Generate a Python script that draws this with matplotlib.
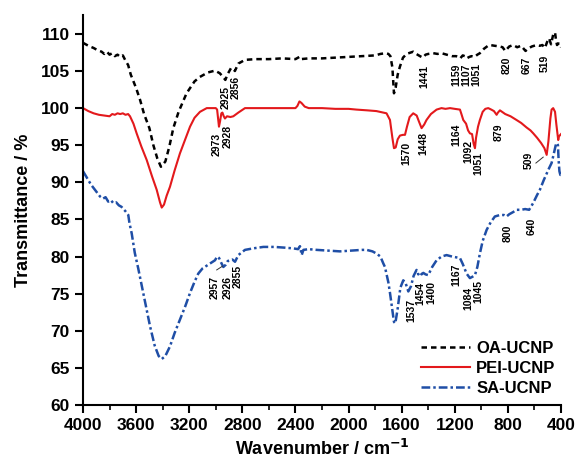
import matplotlib
matplotlib.use("Agg")
import matplotlib.pyplot as plt
from matplotlib.ticker import MultipleLocator

plt.rcParams['font.family'] = ['Liberation Sans', 'DejaVu Sans']
plt.rcParams['font.weight'] = 'bold'

# FTIR spectra (wavenumber in cm-1, transmittance in %)
oa_wn = [4000, 3960, 3920, 3890, 3860, 3840, 3820, 3800, 3780, 3760,
         3740, 3720, 3700, 3680, 3660, 3640, 3600, 3570, 3540, 3500,
         3470, 3440, 3413, 3380, 3350, 3320, 3280, 3220, 3160, 3120,
         3060, 3006, 2970, 2945, 2928, 2910, 2885, 2870, 2856, 2830,
         2780, 2700, 2600, 2500, 2400, 2370, 2360, 2300, 2200, 2100,
         2000, 1900, 1800, 1760, 1720, 1700, 1685, 1670, 1658, 1645,
         1630, 1613, 1590, 1563, 1530, 1513, 1490, 1462, 1441, 1420,
         1400, 1362, 1330, 1300, 1261, 1220, 1190, 1176, 1159, 1140,
         1125, 1111, 1090, 1074, 1051, 1030, 1011, 980, 950, 935,
         900, 860, 840, 820, 810, 790, 760, 730, 700, 686,
         667, 650, 620, 584, 560, 540, 521, 505, 490, 475,
         459, 445, 438, 430, 420, 408, 400]
oa_t = [108.8, 108.4, 108.1, 107.8, 107.6, 107.3, 107.6, 107.2, 107.4, 107.0,
        107.2, 106.9, 107.1, 106.4, 105.8, 104.5, 102.7, 101.1, 99.2, 97.3,
        95.0, 93.2, 92.1, 92.8, 94.8, 97.3, 99.5, 102.0, 103.6, 104.2,
        104.8, 105.05, 104.7, 104.2, 103.8, 104.6, 105.4, 105.3, 105.0, 106.0,
        106.5, 106.6, 106.6, 106.7, 106.6, 106.9, 106.6, 106.7, 106.7, 106.8,
        106.9, 107.0, 107.1, 107.3, 107.4, 107.3, 107.0, 105.5, 102.0, 102.8,
        104.5, 105.6, 106.8, 107.3, 107.5, 107.6, 107.3, 107.0, 106.8, 107.2,
        107.3, 107.4, 107.3, 107.4, 107.2, 107.0, 107.0, 106.9, 106.7, 107.1,
        107.0, 106.7, 106.9, 107.0, 106.9, 107.2, 107.4, 108.0, 108.4, 108.5,
        108.4, 108.3, 108.2, 107.7, 107.9, 108.3, 108.5, 108.2, 108.4, 108.1,
        107.7, 108.0, 108.3, 108.5, 108.4, 108.5, 108.1, 108.9, 109.4, 108.6,
        109.9, 110.2, 109.2, 108.5, 108.7, 108.7, 108.2]

pei_wn = [4000, 3960, 3920, 3880, 3840, 3800, 3780, 3760, 3740, 3720,
          3700, 3680, 3660, 3646, 3620, 3596, 3560, 3520, 3480, 3445,
          3420, 3407, 3390, 3370, 3345, 3310, 3270, 3230, 3194, 3160,
          3119, 3068, 3000, 2990, 2982, 2976, 2968, 2958, 2950, 2940,
          2931, 2915, 2890, 2868, 2830, 2780, 2600, 2400, 2385, 2370,
          2355, 2330, 2300, 2200, 2100, 2000, 1940, 1860, 1790, 1714,
          1688, 1670, 1658, 1645, 1630, 1613, 1590, 1575, 1560, 1540,
          1513, 1487, 1470, 1450, 1430, 1413, 1380, 1337, 1300, 1270,
          1236, 1200, 1161, 1150, 1136, 1115, 1100, 1086, 1070, 1058,
          1048, 1040, 1025, 1011, 990, 970, 948, 925, 905, 885,
          875, 860, 820, 780, 735, 700, 660, 630, 609, 580,
          550, 525, 508, 495, 480, 471, 459, 445, 435, 421,
          415, 400]
pei_t = [100.0, 99.6, 99.3, 99.1, 99.0, 98.9, 99.2, 99.1, 99.3, 99.2,
         99.3, 99.1, 99.2, 98.9, 97.9, 96.6, 94.8, 93.0, 90.8, 89.0,
         87.3, 86.6, 87.0, 88.2, 89.4, 91.6, 93.9, 95.8, 97.5, 98.7,
         99.5, 100.0, 100.0, 99.8, 98.5, 97.5, 98.2, 99.3, 99.4, 98.9,
         98.6, 98.9, 98.8, 98.9, 99.4, 100.0, 100.0, 100.0, 100.3, 100.9,
         100.7, 100.2, 100.0, 100.0, 99.9, 99.9, 99.8, 99.7, 99.6, 99.3,
         98.4, 96.0, 94.6, 94.7, 95.8, 96.3, 96.4, 96.4, 97.5, 98.8,
         99.3, 99.0, 98.2, 97.3, 97.8, 98.4, 99.2, 99.8, 100.0, 99.9,
         100.0, 99.9, 99.8, 99.2, 98.4, 97.9, 97.0, 96.6, 96.5, 95.2,
         94.6, 96.0, 97.5, 98.4, 99.5, 99.9, 100.0, 99.8, 99.6, 99.1,
         99.4, 99.7, 99.2, 98.9, 98.4, 98.0, 97.4, 97.0, 96.6, 96.0,
         95.3, 94.6, 93.7, 95.5, 98.6, 99.8, 100.0, 99.5, 97.8, 95.7,
         96.2, 96.5]

sa_wn = [4000, 3970, 3940, 3910, 3872, 3850, 3830, 3810, 3790, 3772,
         3750, 3730, 3710, 3696, 3680, 3659, 3650, 3633, 3610, 3584,
         3546, 3520, 3495, 3460, 3430, 3407, 3380, 3345, 3310, 3270,
         3230, 3194, 3160, 3132, 3100, 3057, 3006, 2990, 2975, 2960,
         2943, 2925, 2910, 2893, 2875, 2855, 2830, 2780, 2720, 2642,
         2560, 2480, 2416, 2380, 2366, 2353, 2340, 2300, 2240, 2150,
         2065, 1980, 1900, 1864, 1820, 1789, 1760, 1739, 1726, 1700,
         1688, 1670, 1658, 1648, 1630, 1610, 1588, 1570, 1550, 1530,
         1510, 1488, 1475, 1462, 1450, 1437, 1420, 1400, 1370, 1337,
         1300, 1262, 1220, 1190, 1161, 1140, 1111, 1086, 1065, 1048,
         1030, 1011, 990, 960, 930, 898, 860, 830, 810, 790,
         760, 735, 700, 670, 640, 610, 580, 559, 530, 508,
         490, 471, 455, 440, 430, 423, 418, 412, 405, 400]
sa_t = [91.5, 90.6, 89.7, 89.0, 88.1, 87.8, 88.0, 87.4, 87.6, 87.2,
        87.3, 86.9, 86.7, 86.4, 86.1, 85.6, 84.5, 83.1, 80.5, 78.4,
        75.1, 72.8, 70.6, 68.0, 66.6, 66.2, 66.6, 67.9, 69.7, 71.5,
        73.3, 75.1, 76.6, 77.7, 78.4, 78.9, 79.5, 80.0, 79.8, 79.2,
        78.6, 78.9, 79.4, 79.5, 79.6, 79.3, 80.2, 80.9, 81.1, 81.3,
        81.3, 81.2, 81.1, 81.0, 81.4, 80.2, 80.9, 81.0, 80.9, 80.8,
        80.7, 80.8, 80.9, 80.9, 80.7, 80.4, 80.0, 79.1, 78.6, 76.5,
        75.1, 72.8, 71.2, 71.0, 73.0, 75.8, 76.8, 76.4, 75.3, 76.0,
        77.4, 78.2, 77.6, 77.9, 77.6, 77.8, 77.6, 77.5, 78.6, 79.5,
        80.0, 80.2, 80.0, 79.9, 79.8, 79.0, 77.7, 77.1, 77.3, 77.5,
        78.6, 80.4, 82.1, 83.6, 84.6, 85.4, 85.6, 85.6, 85.4, 85.7,
        86.0, 86.3, 86.3, 86.4, 86.3, 87.2, 88.3, 89.0, 90.3, 91.2,
        91.9, 92.6, 93.8, 95.0, 95.3, 95.0, 93.0, 91.5, 91.0, 91.0]

# peak labels and where each one sits (x, y in data units)
oa_peaks = ['2925', '2856', '1441', '1159', '1107', '1051', '820', '667', '519']
oa_pos = [(2923, 101.4), (2848, 102.8), (1432, 104.2), (1186, 104.5),
          (1111, 104.5), (1036, 104.5), (810, 105.8), (659, 105.8), (521, 106.0)]
pei_peaks = ['2973', '2928', '1570', '1448', '1164', '1092', '1051', '879', '509']
pei_pos = [(2993, 95.1), (2910, 96.2), (1563, 93.9), (1437, 95.3),
           (1186, 96.4), (1099, 94.1), (1023, 92.6), (873, 96.7), (640, 93.0)]
sa_peaks = ['2957', '2926', '2855', '1537', '1454', '1400', '1167', '1084',
            '1045', '800', '640']
sa_pos = [(3011, 75.9), (2911, 75.8), (2835, 77.3), (1530, 72.8), (1460, 75.0),
          (1380, 75.2), (1186, 77.5), (1099, 74.4), (1023, 75.3), (802, 83.1),
          (622, 84.1)]

fig = plt.figure(figsize=(5.78, 4.59), dpi=100)
ax = fig.add_axes([0.1436, 0.1176, 0.827, 0.849])

ax.plot(oa_wn, oa_t, color='black', lw=1.8, ls=(0, (2.2, 1.6)), label='OA-UCNP')
ax.plot(pei_wn, pei_t, color='#e3191c', lw=1.5, label='PEI-UCNP')
ax.plot(sa_wn, sa_t, color='#1f4ea6', lw=1.8, ls=(0, (3.5, 1.2, 1.0, 1.2)),
        label='SA-UCNP')

for labels, pos in ((oa_peaks, oa_pos), (pei_peaks, pei_pos), (sa_peaks, sa_pos)):
    for txt, (x, y) in zip(labels, pos):
        ax.text(x, y, txt, rotation=90, ha='center', va='center',
                fontsize=7.5, fontweight='bold')

# leader lines for the crowded labels
ax.plot([589, 534], [92.6, 93.4], color='#333333', lw=0.7)
ax.plot([2993, 2950], [78.2, 78.7], color='#333333', lw=0.7)

ax.set_xlim(4000, 400)
ax.set_ylim(60, 112.5)
ax.xaxis.set_major_locator(MultipleLocator(400))
ax.xaxis.set_minor_locator(MultipleLocator(200))
ax.yaxis.set_major_locator(MultipleLocator(5))

for side in ('top', 'right'):
    ax.spines[side].set_visible(False)
for side in ('left', 'bottom'):
    ax.spines[side].set_linewidth(1.5)

ax.tick_params(which='major', direction='out', length=6, width=1.5, labelsize=12.5)
ax.tick_params(which='minor', direction='out', length=3.5, width=1.2)
for lab in ax.get_xticklabels() + ax.get_yticklabels():
    lab.set_fontweight('bold')

ax.set_xlabel('Wavenumber / cm$^{\\mathbf{-1}}$', fontsize=13, fontweight='bold', labelpad=4)
ax.set_ylabel('Transmittance / %', fontsize=13, fontweight='bold', labelpad=6)

ax.legend(loc='lower right', bbox_to_anchor=(1.02, -0.015), frameon=False,
          prop={'size': 12, 'weight': 'bold'}, handlelength=2.9,
          handletextpad=0.4, labelspacing=0.3)

fig.savefig('out.png', dpi=100)
